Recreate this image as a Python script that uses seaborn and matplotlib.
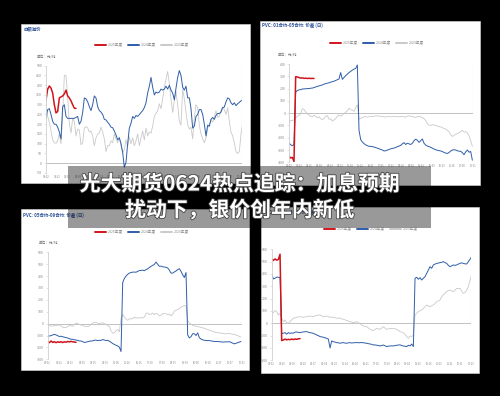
import numpy as np
import matplotlib
matplotlib.use("Agg")
import matplotlib.pyplot as plt
import seaborn as sns
from matplotlib.patches import Rectangle
from matplotlib.lines import Line2D
import matplotlib.patheffects as pe

sns.set_style("white")
plt.rcParams['font.family'] = ['Noto Sans CJK SC', 'DejaVu Sans']

# ---------------- data ----------------
YEARS = ["2025年度", "2024年度", "2023年度"]

P1_TITLE = "白银溢价"
P1_2025 = [324, 380, 396, 385, 360, 300, 258, 265, 335, 340, 345, 355, 375, 345, 335, 320, 300, 282, 281]
P1_2024 = [230, 275, 280, 250, 215, 200, 200, 185, 160, 125, 290, 300, 240, 230, 230, 230, 230, 230, 235, 240,
           200, 215, 260, 335, 330, 315, 290, 270, 300, 345, 335, 290, 270, 262, 250, 225, 222, 210, 200, 185,
           182, 165, 145, 120, 130, 100, 55, -20, 5, 100, 180, 205, 240, 230, 245, 240, 250, 260, 270, 285,
           310, 360, 395, 440, 390, 350, 365, 360, 365, 380, 375, 380, 395, 380, 400, 375, 360, 325, 385, 440,
           475, 450, 390, 375, 395, 335, 335, 280, 180, 190, 240, 250, 275, 275, 250, 200, 140, 195, 190, 225,
           235, 225, 245, 255, 255, 262, 285, 288, 315, 335, 330, 310, 300, 310, 295, 305, 312, 320, 322]
P1_2023 = [273, 240, 210, 165, 120, 105, 102, 115, 150, 100, 250, 450, 450, 340, 200, 155, 230, 215, 140, 175,
           170, 95, 105, 180, 188, 182, 160, 165, 140, 90, 130, 150, 155, 185, 160, 125, 60, 90, 90, 115,
           105, 150, 125, 105, 135, 90, 55, 70, 120, 85, 135, 100, 130, 90, 115, 150, 90, 130, 165, 120,
           180, 140, 160, 155, 190, 240, 255, 270, 305, 280, 330, 390, 430, 470, 410, 330, 260, 320, 370, 300,
           215, 195, 380, 330, 260, 200, 175, 185, 125, 230, 300, 285, 195, 150, 125, 105, 130, 180, 200, 225,
           210, 235, 270, 235, 240, 270, 290, 275, 250, 285, 215, 160, 140, 105, 60, 50, 60, 150, 205]
P1_TICKS = ["01-02", "01-22", "02-11", "03-03", "03-23", "04-12", "05-02", "05-22", "06-11", "07-01",
            "07-21", "08-10", "08-30", "09-19", "10-09", "10-29", "11-18", "12-08", "12-28"]

P2_TITLE = "PVC: 01合约-05合约: 价差 (日)"
P2_2025 = [-351, -365, -360, -395, 297, 294, 290, 285, 287, 283, 285, 282, 284, 282, 283, 282]
P2_2024 = [-243, -257, -265, -255, 170, 185, 189, 192, 196, 198, 198, 200, 200, 203, 204, 208, 213, 218, 222, 226,
           230, 236, 240, 244, 247, 252, 256, 260, 266, 272, 278, 330, 275, 290, 305, 318, 330, 340, 350, 358,
           364, 392, -140, -215, -235, -248, -258, -265, -270, -270, -272, -276, -280, -285, -290, -295, -300, -308, -306, -300,
           -296, -290, -288, -284, -280, -272, -268, -262, -250, -240, -255, -245, -250, -255, -245, -225, -212, -220, -238, -225,
           -210, -245, -260, -268, -272, -278, -285, -292, -298, -302, -305, -308, -312, -320, -325, -328, -320, -308, -300, -298,
           -300, -306, -310, -310, -322, -338, -315, -300, -318, -312, -383]
P2_2023 = [-81, -60, -62, -55, -40, -25, -18, 0, 35, 30, 10, -5, -15, -25, -30, -18, -25, -38, -30, -45,
           -52, -45, -25, -20, -50, -45, -65, -55, -45, -28, -15, -25, -15, -2, 5, 20, 40, 28, 25, 15,
           45, 68, -50, -42, -35, -30, -28, -32, -30, -26, -28, -25, -22, -24, -22, -26, -28, -30, -32, -28,
           -26, -30, -28, -25, -27, -30, -28, -26, -28, -30, -33, -25, -22, -26, -28, -32, -35, -28, -26, -30,
           -35, -45, -60, -85, -98, -100, -95, -96, -100, -105, -110, -112, -118, -125, -130, -140, -150, -175, -190, -180,
           -172, -165, -160, -150, -140, -155, -150, -160, -185, -225, -270]
P2_TICKS = ["01-02", "01-22", "02-11", "03-03", "03-23", "04-12", "05-02", "05-22", "06-11", "07-01",
            "07-21", "08-10", "08-30", "09-19", "10-09", "10-29", "11-18", "12-08", "12-31"]

P3_TITLE = "PVC: 05合约-09合约: 价差 (日)"
P3_2025 = [-151, -160, -146, -158, -152, -160, -153, -157, -152, -159, -153, -156, -150, -154, -149, -153, -155, -157]
P3_2024 = [-104, -104, -101, -95, -90, -95, -102, -108, -106, -110, -114, -117, -121, -127, -131, -132, -136, -138, -141, -145,
           -146, -152, -158, -156, -152, -148, -146, -145, -140, -138, -144, -140, -141, -134, -138, -142, -140, -148, -157, -167,
           -175, -182, -188, -198, -235, 345, 380, 400, 415, 425, 430, 433, 434, 432, 440, 446, 448, 450, 445, 455,
           460, 472, 482, 490, 498, 518, 500, 482, 484, 478, 476, 474, 468, 450, 425, 425, 435, 443, 455, 462,
           440, 410, 388, 430, -95, -120, -110, -85, -85, -100, -78, -118, -130, -136, -140, -142, -143, -142, -145, -148,
           -150, -151, -150, -152, -153, -155, -155, -153, -154, -151, -158, -164, -170, -166, -160, -155, -150]
P3_2023 = [-11, -18, -20, -20, -18, -15, -13, -11, -20, -30, -34, -32, -25, -15, -18, -22, -8, 5, 2, -8,
           -11, -17, -22, -22, -24, -20, -8, 5, 10, 10, 5, 0, 5, 6, 0, -8, -15, -25, -60, -80,
           -78, -60, -50, -70, 40, 78, 55, 38, 28, 40, 40, 42, 55, 45, 50, 48, 50, 48, 55, 85,
           90, 78, 78, 90, 75, 85, 82, 65, 70, 85, 82, 85, 75, 80, 65, 80, 105, 112, 120, 125,
           138, 145, 152, 150, 25, 5, -5, -15, -20, -22, -25, -28, -32, -35, -40, -45, -50, -55, -60, -65,
           -70, -75, -76, -78, -80, -82, -85, -86, -83, -82, -86, -90, -92, -96, -100, -108, -113]
P3_TICKS = ["01-02", "01-22", "02-13", "03-05", "03-25", "04-15", "05-06", "05-26", "06-16", "07-10",
            "07-30", "08-19", "09-09", "10-08", "10-28", "11-17", "12-07", "12-31"]

P4_TITLE = "PVC: 09合约-01合约: 价差 (日)"
P4_2025 = [520, 510, 522, 512, 518, 560, -140, -135, -128, -134, -130, -133, -128, -132, -127, -130, -126, -124]
P4_2024 = [400, 360, 365, 375, 373, 372, -85, -80, -76, -88, -76, -82, -78, -80, -72, -70, -74, -76, -72, -70,
           -68, -68, -72, -76, -78, -82, -88, -95, -100, -108, -110, -113, -118, -122, -128, -200, -143, -149, -152, -157,
           -158, -162, -158, -157, -160, -162, -158, -157, -160, -158, -157, -156, -158, -157, -156, -158, -160, -162, -165, -168,
           -170, -176, -175, -178, -180, -184, -180, -176, -182, -189, -185, -184, -182, -184, -181, -178, -176, -175, -180, -184,
           -186, -189, -178, -184, -168, -189, 365, 373, 357, 370, 351, 365, 378, 405, 432, 459, 446, 473, 480, 486,
           488, 492, 495, 500, 492, 486, 470, 459, 466, 473, 470, 473, 480, 486, 490, 486, 482, 481, 500, 519, 541]
P4_2023 = [95, 86, 103, 95, 68, 81, 41, 14, 27, 5, 0, 14, 27, 41, 45, 49, 52, 54, 50, 49,
           52, 54, 56, 59, 56, 54, 60, 65, 66, 68, 60, 54, 56, 59, 55, 49, 50, 49, 45, 41,
           42, 41, 36, 32, 28, 22, 18, 14, 10, 5, 8, 14, 5, -5, -14, -22, -25, -27, -38, -49,
           -55, -59, -50, -41, -45, -49, -38, -27, -40, -49, -45, -41, -42, -41, -45, -49, -58, -68, -72, -76,
           -90, -108, -122, -103, -108, -95, 68, 81, 95, 103, 108, 122, 135, 149, 140, 135, 142, 149, 160, 176,
           182, 189, 216, 230, 245, 257, 265, 270, 262, 257, 270, 284, 280, 284, 260, 243, 250, 270, 297, 351, 392]
P4_TICKS = ["01-02", "01-20", "02-09", "02-28", "03-17", "04-04", "04-23", "05-14", "06-04", "06-21",
            "07-10", "07-29", "08-16", "09-04", "09-25", "10-16", "11-03", "11-21", "12-11", "12-29"]

HEADLINE = ["光大期货0624热点追踪：加息预期", "扰动下，银价创年内新低"]
UNIT = "单位：元/吨"

# ---------------- style ----------------
W, H = 500, 396
COLORS = ["#d0141c", "#2f5ea8", "#c9c9c9"]
WIDTHS = [1.1, 0.7, 0.6]
TICK_C = "#8a8a8a"

fig = plt.figure(figsize=(W / 100, H / 100), dpi=100, facecolor="black")


def fx(x):
    return x / W


def fy(y):
    return 1 - y / H


def panel(l, t, r, b):
    fig.patches.append(Rectangle((fx(l), fy(b)), fx(r - l), (b - t) / H,
                                 transform=fig.transFigure, facecolor="white",
                                 edgecolor="#dddddd", linewidth=0.4, zorder=-2))


def make_axes(box, ylim, yticks, nsteps, series, ticklabels, tick_end):
    l, t, r, b = box
    ax = fig.add_axes([fx(l), fy(b), fx(r - l), (b - t) / H])
    ax.set_facecolor("none")
    for vals, c, lw in reversed(list(zip(series, COLORS, WIDTHS))):
        x = np.arange(len(vals))
        sns.lineplot(x=x, y=vals, ax=ax, color=c, linewidth=lw, sort=False,
                     estimator=None, legend=False)
    ax.set_xlim(0, nsteps)
    ax.set_ylim(*ylim)
    ax.axhline(0, color="#b8b8b8", linewidth=0.6, zorder=0.5)
    ax.axvline(nsteps, ymin=(0 - ylim[0]) / (ylim[1] - ylim[0]), ymax=1,
               color="#d8d8d8", linewidth=0.8)
    for s in ["top", "right", "bottom"]:
        ax.spines[s].set_visible(False)
    ax.spines["left"].set_color("#cfcfcf")
    ax.spines["left"].set_linewidth(0.6)
    ax.set_yticks(yticks)
    ax.set_yticklabels([str(v) for v in yticks])
    ax.set_xticks(np.linspace(0, tick_end, len(ticklabels)))
    ax.set_xticklabels(ticklabels)
    ax.tick_params(axis="y", length=1.5, width=0.4, color="#cfcfcf", pad=1.2,
                   labelsize=2.6, labelcolor=TICK_C, left=True)
    ax.tick_params(axis="x", length=0, pad=1.5, labelsize=1.9, labelcolor=TICK_C)
    ax.set_xlabel("")
    ax.set_ylabel("")
    return ax


def legend_at(cx, cy):
    handles = [Line2D([0], [0], color=c, linewidth=1.4) for c in COLORS]
    fig.legend(handles, YEARS, loc="center", bbox_to_anchor=(fx(cx), fy(cy)),
               ncol=3, frameon=False, fontsize=2.6, handlelength=3.2,
               columnspacing=1.2, handletextpad=0.5, labelcolor="#888888")


def title_at(x, y, s):
    fig.text(fx(x), fy(y), s, fontsize=3.2, color="#2a4f96", fontweight="bold",
             va="center", ha="left")


def unit_at(x, y):
    fig.text(fx(x), fy(y), UNIT, fontsize=2.6, color="#777777", va="center", ha="left")


# panels
panel(21, 24, 250, 183)
panel(260, 21, 480, 185)
panel(21, 209, 249, 370)
panel(261, 207, 479, 373)

make_axes((46, 65.7, 242, 173), (-50, 500), list(range(-50, 501, 50)), 117.6,
          [P1_2025, P1_2024, P1_2023], P1_TICKS, 116.3)
make_axes((289, 64, 472.7, 162.3), (-400, 400), list(range(-400, 401, 100)), 110.2,
          [P2_2025, P2_2024, P2_2023], P2_TICKS, 110.2)
make_axes((47.7, 252.3, 242, 359.3), (-300, 600), list(range(-300, 601, 100)), 116.6,
          [P3_2025, P3_2024, P3_2023], P3_TICKS, 116.6)
make_axes((271.7, 249.3, 470.7, 360.3), (-300, 600), list(range(-300, 601, 100)), 119.4,
          [P4_2025, P4_2024, P4_2023], P4_TICKS, 119.4)

title_at(23, 29, P1_TITLE)
title_at(262, 25, P2_TITLE)
title_at(23, 215, P3_TITLE)
title_at(263, 212, P4_TITLE)

legend_at(142, 45)
legend_at(377, 43)
legend_at(142, 232)
legend_at(371, 229)

unit_at(37, 57)
unit_at(278, 54)
unit_at(39, 243)

# headline banner
fig.patches.append(Rectangle((fx(68), fy(228)), fx(431 - 68), (228 - 166) / H,
                             transform=fig.transFigure, facecolor="black",
                             alpha=0.4, edgecolor="none", zorder=5))
for txt, yy in zip(HEADLINE, [184, 210]):
    fig.text(fx(240), fy(yy), txt, fontsize=15, color="white", fontweight="bold",
             ha="center", va="center", zorder=6,
             path_effects=[pe.withStroke(linewidth=1.2, foreground="#444444")])

fig.savefig("out.png", dpi=100, facecolor="black")
